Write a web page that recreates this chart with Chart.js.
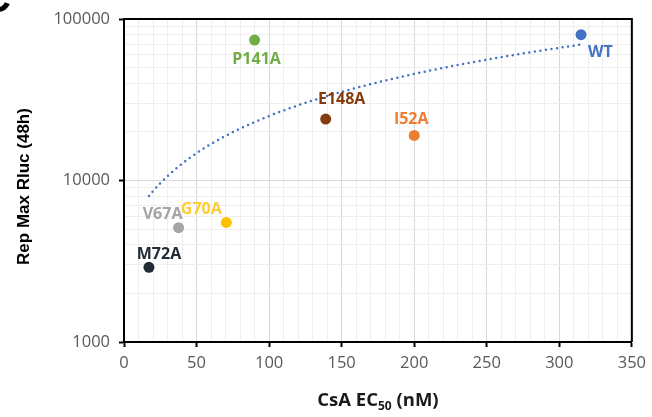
<!DOCTYPE html>
<html>
<head>
<meta charset="utf-8">
<script src="https://cdn.jsdelivr.net/npm/chart.js@4.4.0/dist/chart.umd.min.js"></script>
<style>
  html, body { margin: 0; padding: 0; background: #fff; }
</style>
</head>
<body>
<canvas id="ec50Chart" width="652" height="417"></canvas>
<script>
'use strict'

// mutants, CsA EC50 (nM) and max replication (Rluc, 48h)
const mutants = ['WT', 'P141A', 'E148A', 'I52A', 'V67A', 'G70A', 'M72A']
const ec50 = [315, 90, 139, 200, 37.6, 70.5, 17.2]
const repMax = [80000, 74000, 24000, 19000, 5100, 5500, 2900]

const pointColors = ['#4472C4', '#70AD47', '#843C0C', '#ED7D31', '#A5A5A5', '#FFC000', '#222A35']
const labelColors = ['#4472C4', '#70AD47', '#843C0C', '#ED7D31', '#A5A5A5', '#FFCC33', '#222A35']

const xTickLabels = [0, 50, 100, 150, 200, 250, 300, 350]
const yTickLabels = [1000, 10000, 100000]

// where each name sits relative to its dot
const labelPlace = {
  WT: { dx: 7, dy: 18, align: 'left' },
  P141A: { dx: 2, dy: 19, align: 'center' },
  E148A: { dx: 16, dy: -20, align: 'center' },
  I52A: { dx: -3, dy: -16, align: 'center' },
  V67A: { dx: -16, dy: -13, align: 'center' },
  G70A: { dx: -25, dy: -13, align: 'center' },
  M72A: { dx: 10, dy: -13, align: 'center' }
}

const tickFont = { family: 'Open Sans', size: 16.5 }
const tickColor = '#595959'

// least squares line through the points (linear x, linear y)
function linearFit(xs, ys) {
  const n = xs.length
  const mx = xs.reduce((a, b) => a + b, 0) / n
  const my = ys.reduce((a, b) => a + b, 0) / n
  let sxy = 0
  let sxx = 0
  xs.forEach((x, i) => {
    sxy += (x - mx) * (ys[i] - my)
    sxx += (x - mx) * (x - mx)
  })
  const slope = sxy / sxx
  return { slope, intercept: my - slope * mx }
}

const fit = linearFit(ec50, repMax)

const trendline = {
  id: 'trendline',
  beforeDatasetsDraw(chart) {
    const { ctx, chartArea, scales } = chart
    const x0 = Math.min(...ec50)
    const x1 = Math.max(...ec50)
    const steps = 150
    ctx.save()
    ctx.beginPath()
    ctx.rect(chartArea.left, chartArea.top, chartArea.right - chartArea.left, chartArea.bottom - chartArea.top)
    ctx.clip()
    ctx.beginPath()
    for (let i = 0; i <= steps; i++) {
      const x = x0 + (x1 - x0) * i / steps
      const px = scales.x.getPixelForValue(x)
      const py = scales.y.getPixelForValue(fit.slope * x + fit.intercept)
      if (i === 0) ctx.moveTo(px, py)
      else ctx.lineTo(px, py)
    }
    ctx.strokeStyle = '#4472C4'
    ctx.lineWidth = 2.5
    ctx.lineCap = 'round'
    ctx.setLineDash([0, 5.6])
    ctx.stroke()
    ctx.restore()
  }
}

const decorations = {
  id: 'decorations',
  afterDatasetsDraw(chart) {
    const { ctx, chartArea } = chart
    const meta = chart.getDatasetMeta(0)

    // point names
    ctx.save()
    ctx.font = 'bold 16px "Open Sans"'
    ctx.textBaseline = 'middle'
    meta.data.forEach((pt, i) => {
      const place = labelPlace[mutants[i]]
      ctx.fillStyle = labelColors[i]
      ctx.textAlign = place.align
      ctx.fillText(mutants[i], pt.x + place.dx, pt.y + place.dy)
    })
    ctx.restore()

    // top and right edges of the plot box
    ctx.save()
    ctx.strokeStyle = '#000'
    ctx.lineWidth = 2
    ctx.beginPath()
    ctx.moveTo(chartArea.left, chartArea.top)
    ctx.lineTo(chartArea.right, chartArea.top)
    ctx.lineTo(chartArea.right, chartArea.bottom)
    ctx.stroke()
    ctx.restore()
  },
  afterDraw(chart) {
    const { ctx, chartArea } = chart

    // y title
    ctx.save()
    ctx.translate(24, (chartArea.top + chartArea.bottom) / 2 + 6)
    ctx.rotate(-Math.PI / 2)
    ctx.font = 'bold 17px "Liberation Sans"'
    ctx.fillStyle = '#000'
    ctx.textAlign = 'center'
    ctx.textBaseline = 'middle'
    ctx.fillText('Rep Max Rluc (48h)', 0, 0)
    ctx.restore()

    // x title with subscript
    ctx.save()
    const big = 'bold 18.5px "Open Sans"'
    const small = 'bold 12px "Open Sans"'
    const parts = [['CsA EC', big, 0], ['50', small, 4], [' (nM)', big, 0]]
    let total = 0
    parts.forEach(([t, f]) => { ctx.font = f; total += ctx.measureText(t).width })
    let x = (chartArea.left + chartArea.right) / 2 - total / 2
    const y = 406
    ctx.fillStyle = '#1A1A1A'
    ctx.textBaseline = 'alphabetic'
    ctx.textAlign = 'left'
    parts.forEach(([t, f, dy]) => {
      ctx.font = f
      ctx.fillText(t, x, y + dy)
      x += ctx.measureText(t).width
    })
    ctx.restore()

    // panel letter, mostly off the page
    ctx.save()
    ctx.font = 'bold 40px "Liberation Sans"'
    ctx.fillStyle = '#000'
    ctx.textBaseline = 'alphabetic'
    ctx.fillText('C', -18, 12)
    ctx.restore()
  }
}

const isMajorY = (v) => yTickLabels.includes(v)
const isMajorX = (v) => v % 50 === 0

new Chart(document.getElementById('ec50Chart'), {
  type: 'scatter',
  data: {
    datasets: [{
      label: 'Rep Max Rluc',
      data: ec50.map((x, i) => ({ x, y: repMax[i] })),
      backgroundColor: pointColors,
      pointRadius: 5.5,
      pointBorderWidth: 0
    }]
  },
  options: {
    responsive: false,
    animation: false,
    layout: { padding: { top: 19, right: 19, left: 0, bottom: 0 } },
    scales: {
      x: {
        type: 'linear',
        min: 0,
        max: 350,
        afterFit(scale) { scale.height = 75 },
        ticks: {
          stepSize: 10,
          autoSkip: false,
          maxRotation: 0,
          padding: 6,
          font: tickFont,
          color: tickColor,
          callback: (v) => (xTickLabels.includes(v) ? String(v) : '')
        },
        grid: {
          color: (c) => (c.tick && isMajorX(c.tick.value) ? '#D9D9D9' : '#EEEEEE'),
          lineWidth: 1,
          tickLength: 5,
          tickWidth: 2,
          tickColor: (c) => (c.tick && isMajorX(c.tick.value) ? '#000' : 'rgba(0,0,0,0)')
        },
        border: { color: '#000', width: 2 }
      },
      y: {
        type: 'logarithmic',
        min: 1000,
        max: 100000,
        afterFit(scale) { scale.width = 124 },
        afterBuildTicks(scale) {
          const ticks = []
          yTickLabels.slice(0, -1).forEach((d) => {
            for (let m = 1; m < 10; m++) ticks.push({ value: d * m })
          })
          ticks.push({ value: yTickLabels[yTickLabels.length - 1] })
          scale.ticks = ticks
        },
        ticks: {
          autoSkip: false,
          padding: 9,
          font: tickFont,
          color: tickColor,
          callback: (v) => (isMajorY(v) ? String(v) : '')
        },
        grid: {
          color: (c) => (c.tick && isMajorY(c.tick.value) ? '#D9D9D9' : '#EEEEEE'),
          lineWidth: 1,
          tickLength: 5,
          tickWidth: 2,
          tickColor: (c) => (c.tick && isMajorY(c.tick.value) ? '#000' : 'rgba(0,0,0,0)')
        },
        border: { color: '#000', width: 2 }
      }
    },
    plugins: {
      legend: { display: false },
      tooltip: { enabled: false }
    }
  },
  plugins: [trendline, decorations]
})
</script>
</body>
</html>
